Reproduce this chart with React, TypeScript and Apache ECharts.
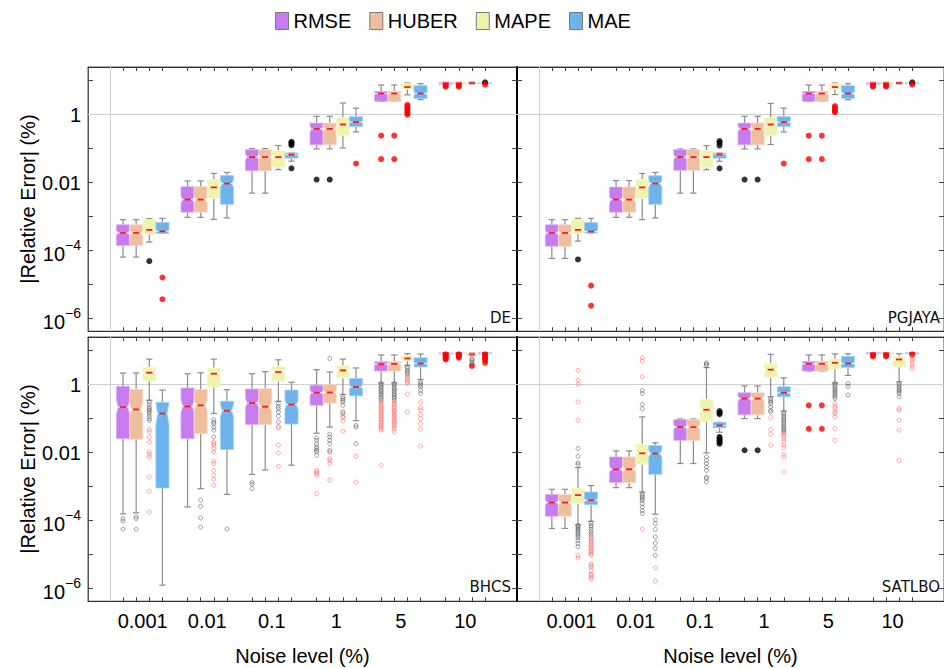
import React, { useEffect, useRef } from 'react';
import * as echarts from 'echarts';

// ---------------- DATA ----------------
// Box statistics are given as log10(|Relative Error| in %): [whiskerLow, Q1, median, Q3, whiskerHigh]
// one row per noise level (0.001, 0.01, 0.1, 1, 5, 10)
const METHODS = ['RMSE', 'HUBER', 'MAPE', 'MAE'];
const NOISE_LABELS = ['0.001', '0.01', '0.1', '1', '5', '10'];
const Y_TICK_EXPONENTS = [-6, -5, -4, -3, -2, -1, 0, 1];
const Y_LABEL_EXPONENTS = [-6, -4, -2, 0];
const PANEL_LABELS = ['DE', 'PGJAYA', 'BHCS', 'SATLBO'];

const DE_RMSE = [
  [-4.19, -3.85, -3.48, -3.24, -3.09],
  [-3.02, -2.87, -2.5, -2.12, -1.95],
  [-2.31, -1.65, -1.25, -1.03, -1.0],
  [-1.01, -0.89, -0.42, -0.25, -0.05],
  [0.39, 0.39, 0.62, 0.68, 0.87],
  [0.89, 0.89, 0.92, 0.94, 0.95],
];
const DE_HUBER = [
  [-4.19, -3.85, -3.48, -3.24, -3.09],
  [-3.02, -2.87, -2.5, -2.12, -1.95],
  [-2.31, -1.65, -1.25, -1.03, -1.0],
  [-1.01, -0.89, -0.42, -0.25, -0.05],
  [0.39, 0.39, 0.62, 0.68, 0.87],
  [0.89, 0.89, 0.92, 0.94, 0.95],
];
const DE_MAPE = [
  [-3.75, -3.52, -3.39, -3.09, -3.06],
  [-3.08, -2.46, -2.14, -1.91, -1.73],
  [-1.62, -1.55, -1.25, -1.06, -0.91],
  [-0.98, -0.61, -0.29, -0.09, 0.34],
  [0.58, 0.75, 0.81, 0.91, 0.93],
  [0.9, 0.91, 0.93, 0.94, 0.95],
];
const DE_MAE = [
  [-3.49, -3.49, -3.43, -3.17, -3.05],
  [-3.04, -2.64, -2.03, -1.79, -1.7],
  [-1.37, -1.28, -1.18, -1.13, -1.13],
  [-0.51, -0.35, -0.22, -0.06, 0.19],
  [0.44, 0.47, 0.62, 0.85, 0.91],
  [0.9, 0.91, 0.93, 0.94, 0.95],
];
// outliers: [noise index, method index, log10 values]
const DE_NEAR_SOLID = [
  [0, 2, [-4.31]],
  [2, 3, [-0.8, -0.83, -0.87, -0.9, -1.58]],
  [3, 0, [-1.91]],
  [3, 1, [-1.91]],
  [5, 3, [0.95]],
];
const DE_FAR_SOLID = [
  [0, 3, [-4.79, -5.43]],
  [3, 3, [-1.44]],
  [4, 0, [-0.62, -1.31]],
  [4, 1, [-0.62, -1.31]],
  [4, 2, [0.29, 0.24, 0.19, 0.14, 0.09, 0.04, 0.0]],
  [5, 0, [0.85, 0.82]],
  [5, 1, [0.85, 0.82]],
  [5, 3, [0.88]],
];

const PGJAYA_RMSE = [
  [-4.23, -3.87, -3.48, -3.24, -3.09],
  [-3.02, -2.87, -2.5, -2.13, -1.94],
  [-2.31, -1.64, -1.25, -1.03, -1.01],
  [-1.01, -0.89, -0.42, -0.25, -0.05],
  [0.39, 0.39, 0.62, 0.68, 0.87],
  [0.89, 0.89, 0.92, 0.94, 0.95],
];
const PGJAYA_HUBER = [
  [-4.23, -3.87, -3.48, -3.24, -3.09],
  [-3.02, -2.87, -2.5, -2.13, -1.94],
  [-2.31, -1.64, -1.25, -1.03, -1.01],
  [-1.01, -0.89, -0.42, -0.25, -0.05],
  [0.39, 0.39, 0.62, 0.68, 0.87],
  [0.89, 0.89, 0.92, 0.94, 0.95],
];
const PGJAYA_MAPE = [
  [-3.72, -3.5, -3.39, -3.09, -3.05],
  [-3.09, -2.46, -2.14, -1.91, -1.73],
  [-1.62, -1.55, -1.25, -1.06, -0.91],
  [-0.88, -0.61, -0.29, -0.09, 0.33],
  [0.59, 0.75, 0.81, 0.91, 0.93],
  [0.9, 0.91, 0.93, 0.94, 0.95],
];
const PGJAYA_MAE = [
  [-3.48, -3.48, -3.44, -3.17, -3.05],
  [-3.04, -2.64, -2.03, -1.8, -1.7],
  [-1.37, -1.28, -1.17, -1.13, -1.13],
  [-0.51, -0.35, -0.22, -0.06, 0.19],
  [0.44, 0.47, 0.62, 0.85, 0.91],
  [0.9, 0.91, 0.93, 0.94, 0.95],
];
const PGJAYA_NEAR_SOLID = [
  [0, 2, [-4.26]],
  [2, 3, [-0.78, -0.83, -0.91, -1.58]],
  [3, 0, [-1.91]],
  [3, 1, [-1.91]],
  [5, 3, [0.95]],
];
const PGJAYA_FAR_SOLID = [
  [0, 3, [-5.03, -5.62]],
  [3, 3, [-1.44]],
  [4, 0, [-0.62, -1.31]],
  [4, 1, [-0.62, -1.31]],
  [4, 2, [0.25, 0.2, 0.15, 0.1, 0.07]],
  [5, 0, [0.85, 0.82]],
  [5, 1, [0.85, 0.82]],
  [5, 3, [0.88]],
];

const BHCS_RMSE = [
  [-3.8, -1.59, -0.66, -0.05, 0.34],
  [-3.6, -1.59, -0.64, -0.1, 0.32],
  [-2.64, -1.17, -0.54, -0.13, 0.32],
  [-1.43, -0.61, -0.24, -0.02, 0.44],
  [0.05, 0.4, 0.6, 0.67, 0.87],
  [0.9, 0.9, 0.92, 0.93, 0.94],
];
const BHCS_HUBER = [
  [-3.77, -1.61, -0.73, -0.14, 0.34],
  [-3.06, -1.44, -0.61, -0.15, 0.35],
  [-2.51, -1.17, -0.65, -0.12, 0.38],
  [-1.25, -0.54, -0.23, 0.0, 0.37],
  [0.05, 0.4, 0.61, 0.67, 0.87],
  [0.9, 0.9, 0.92, 0.93, 0.94],
];
const BHCS_MAPE = [
  [-0.46, 0.11, 0.35, 0.51, 0.75],
  [-0.85, -0.07, 0.32, 0.49, 0.75],
  [-0.49, 0.1, 0.37, 0.54, 0.73],
  [-0.29, 0.2, 0.42, 0.56, 0.75],
  [0.57, 0.7, 0.77, 0.85, 0.91],
  [0.84, 0.84, 0.89, 0.93, 0.94],
];
const BHCS_MAE = [
  [-5.9, -3.04, -0.85, -0.52, -0.16],
  [-3.23, -1.91, -0.77, -0.49, -0.15],
  [-2.37, -1.16, -0.59, -0.16, 0.07],
  [-1.06, -0.33, -0.07, 0.18, 0.49],
  [0.15, 0.52, 0.62, 0.79, 0.9],
  [0.9, 0.9, 0.92, 0.94, 0.94],
];
const BHCS_NEAR_HOLLOW = [
  [0, 0, [-3.94, -4.01, -4.25]],
  [0, 1, [-3.89, -3.94, -4.25]],
  [0, 2, [-0.51, -0.58, -0.66, -0.71, -0.75, -0.8, -0.85, -0.93, -1.0, -1.05]],
  [1, 1, [-3.4, -3.58, -3.92, -4.19]],
  [1, 2, [-1.03, -1.1, -1.15, -1.25, -1.34, -1.54]],
  [1, 3, [-4.25]],
  [2, 0, [-2.87, -2.93, -3.06]],
  [2, 2, [-0.56, -0.64, -0.71, -0.8, -0.93, -1.1]],
  [3, 0, [-1.57, -1.64, -1.74, -1.83, -1.88, -1.93, -1.98, -2.08]],
  [3, 1, [0.77, -1.46, -1.54, -1.64, -1.74, -1.93, -1.98]],
  [3, 2, [-0.36, -0.41, -0.46, -0.51, -0.61, -0.8, -0.85]],
  [3, 3, [-1.2, -1.25, -1.74]],
  [4, 0, [0.03, -0.02, -0.07, -0.11, -0.17, -0.21, -0.26, -0.3, -0.36, -0.41, -0.46]],
  [4, 1, [0.03, -0.01, -0.07, -0.12, -0.16, -0.21, -0.27, -0.31, -0.36, -0.4, -0.46]],
  [4, 2, [0.52, 0.47, 0.42, 0.37, 0.32]],
  [4, 3, [0.08, 0.03, -0.02, -0.07, -0.17, -0.26]],
  [5, 2, [0.76, 0.72, 0.67, 0.62]],
];
const BHCS_FAR_HOLLOW = [
  [0, 2, [-1.32, -1.39, -1.54, -1.69, -1.98, -2.05, -2.13, -2.72, -3.14, -3.75]],
  [1, 2, [-1.69, -1.74, -1.78, -1.88, -1.98, -2.25, -2.32, -2.52, -2.67, -2.78, -2.96]],
  [2, 2, [-1.23, -1.27, -1.78, -2.01, -2.4]],
  [3, 0, [-2.52, -2.57, -2.62, -2.67, -3.21]],
  [3, 1, [-2.18, -2.23, -2.32, -2.81]],
  [3, 2, [-0.93, -0.97, -1.07, -1.37]],
  [3, 3, [-2.11, -2.87]],
  [4, 0, [-0.51, -0.55, -0.61, -0.66, -0.7, -0.75, -0.81, -0.85, -0.9, -0.95, -1.0, -1.04, -1.1, -1.15, -1.2, -1.24, -1.29, -1.34, -2.37]],
  [4, 1, [-0.51, -0.56, -0.6, -0.66, -0.71, -0.76, -0.8, -0.86, -0.9, -0.94, -1.0, -1.05, -1.1, -1.14, -1.2, -1.25, -1.3, -1.39]],
  [4, 2, [0.27, 0.23, 0.18, 0.13, 0.08, 0.03, -0.28, -0.8]],
  [4, 3, [-0.51, -0.68, -0.75, -0.88, -1.0, -1.15, -1.31, -1.81]],
];
const BHCS_FAR_SOLID = [
  [5, 0, [0.89, 0.86, 0.83, 0.8, 0.76, 0.74]],
  [5, 1, [0.89, 0.86, 0.83, 0.79]],
  [5, 2, [0.55]],
  [5, 3, [0.89, 0.85, 0.81, 0.76, 0.72, 0.64]],
];

const SATLBO_RMSE = [
  [-4.23, -3.87, -3.47, -3.23, -3.08],
  [-3.03, -2.88, -2.49, -2.13, -1.95],
  [-2.32, -1.64, -1.25, -1.03, -1.01],
  [-1.0, -0.89, -0.41, -0.24, -0.04],
  [0.4, 0.4, 0.61, 0.68, 0.87],
  [0.9, 0.9, 0.92, 0.94, 0.94],
];
const SATLBO_HUBER = [
  [-4.23, -3.87, -3.47, -3.23, -3.08],
  [-3.03, -2.88, -2.49, -2.13, -1.95],
  [-2.32, -1.64, -1.25, -1.03, -1.01],
  [-1.0, -0.89, -0.41, -0.24, -0.04],
  [0.4, 0.4, 0.61, 0.68, 0.87],
  [0.9, 0.9, 0.92, 0.94, 0.94],
];
const SATLBO_MAPE = [
  [-4.12, -3.5, -3.25, -3.05, -2.44],
  [-3.16, -2.34, -2.02, -1.76, -0.95],
  [-2.01, -1.08, -0.74, -0.44, 0.5],
  [-0.36, 0.21, 0.44, 0.62, 0.89],
  [0.05, 0.46, 0.64, 0.75, 0.9],
  [0.08, 0.52, 0.74, 0.83, 0.91],
];
const SATLBO_MAE = [
  [-4.02, -3.53, -3.4, -3.16, -2.97],
  [-3.81, -2.64, -2.03, -1.79, -1.71],
  [-1.4, -1.27, -1.2, -1.11, -1.11],
  [-0.78, -0.36, -0.24, -0.06, 0.2],
  [0.27, 0.5, 0.62, 0.83, 0.91],
  [0.9, 0.9, 0.92, 0.94, 0.94],
];
const SATLBO_NEAR_HOLLOW = [
  [0, 2, [-1.88, -2.11, -2.3, -2.35, -4.14, -4.18, -4.22, -4.26, -4.3, -4.35, -4.4, -4.45, -4.5, -4.58, -4.67, -4.77]],
  [0, 3, [-4.07, -4.14, -4.19, -4.26, -4.33, -4.4, -4.48]],
  [1, 2, [-0.17, -0.26, -0.58, -0.71, -3.21, -3.26, -3.31, -3.36, -3.41, -3.5, -3.6, -3.7, -3.79]],
  [1, 3, [-3.97, -4.09, -4.26, -4.48, -4.66, -4.82, -5.02]],
  [2, 2, [0.64, 0.6, 0.57, -2.13, -2.23, -2.32, -2.42, -2.52, -2.72, -2.76, -2.86]],
  [3, 2, [-0.41, -0.46, -0.51, -0.56, -0.66, -0.75, -0.8]],
  [3, 3, [-0.82, -0.87, -0.92, -0.97, -1.02, -1.07, -1.12, -1.17, -1.22, -1.27, -1.32, -1.36, -1.41]],
  [4, 2, [0.03, -0.02, -0.07, -0.12, -0.17, -0.21, -0.26, -0.31, -0.36, -0.41]],
  [4, 3, [0.03, -0.05, -0.31]],
  [5, 2, [0.03, -0.02, -0.07, -0.12, -0.17, -0.21, -0.26, -0.36]],
];
const SATLBO_FAR_HOLLOW = [
  [0, 2, [0.42, 0.13, 0.01, -0.51, -1.05, -5.02, -5.1]],
  [0, 3, [-4.53, -4.58, -4.63, -4.68, -4.73, -4.78, -4.83, -4.88, -4.93, -4.98, -5.02, -5.27, -5.32, -5.37, -5.47, -5.57, -5.61, -5.66, -5.71]],
  [1, 2, [0.79, 0.69, 0.23, -4.25]],
  [1, 3, [-5.39, -5.78]],
  [3, 2, [-0.97, -1.32, -1.46, -1.78]],
  [3, 3, [-1.46, -1.52, -1.59, -1.66, -1.78, -1.85, -2.05, -2.13, -2.57]],
  [4, 2, [-0.56, -0.64, -0.71, -0.8, -0.85, -0.95, -1.29, -1.64]],
  [5, 2, [-0.71, -0.75, -1.05, -1.34, -2.23]],
  [5, 3, [0.83, 0.76, 0.7, 0.62, 0.54, 0.47]],
];
const SATLBO_NEAR_SOLID = [
  [2, 3, [-0.78, -0.83, -0.87, -1.54, -1.59, -1.64, -1.69, -1.74]],
  [3, 0, [-1.93]],
  [3, 1, [-1.93]],
];
const SATLBO_FAR_SOLID = [
  [4, 0, [-0.61, -1.3]],
  [4, 1, [-0.61, -1.3]],
  [5, 0, [0.86, 0.83]],
  [5, 1, [0.86, 0.83]],
  [5, 3, [0.89]],
];

// ---------------- STYLE / LAYOUT ----------------
const FONT = "'Liberation Sans', Arial, sans-serif";
const COLORS = ['#c67bef', '#efbe9f', '#eef3ae', '#6db4ec'];
const EDGES = ['#dcaef6', '#f6d8c5', '#f7f9d3', '#a6d1f4'];
const X_MIN = -0.848;
const X_MAX = 5.8;
const Y_MIN = -6.37;
const Y_MAX = 1.4;
const BOX_STEP = 0.2036;
const NOTCH = 0.13;
const GRID_W = 429;
const GRID_H = 264.2;
const GRID_POS = [
  { left: 88, top: 67 },
  { left: 517, top: 67 },
  { left: 88, top: 337 },
  { left: 517, top: 337 },
];

const boxX = (g: number, k: number) => g + (k - 1.5) * BOX_STEP;
const BOX_POSITIONS: number[] = [];
NOISE_LABELS.forEach((_, g) => METHODS.forEach((__, k) => BOX_POSITIONS.push(boxX(g, k))));

const PANELS = [
  { stats: [DE_RMSE, DE_HUBER, DE_MAPE, DE_MAE], nearHollow: [], farHollow: [], nearSolid: DE_NEAR_SOLID, farSolid: DE_FAR_SOLID },
  { stats: [PGJAYA_RMSE, PGJAYA_HUBER, PGJAYA_MAPE, PGJAYA_MAE], nearHollow: [], farHollow: [], nearSolid: PGJAYA_NEAR_SOLID, farSolid: PGJAYA_FAR_SOLID },
  { stats: [BHCS_RMSE, BHCS_HUBER, BHCS_MAPE, BHCS_MAE], nearHollow: BHCS_NEAR_HOLLOW, farHollow: BHCS_FAR_HOLLOW, nearSolid: [], farSolid: BHCS_FAR_SOLID },
  { stats: [SATLBO_RMSE, SATLBO_HUBER, SATLBO_MAPE, SATLBO_MAE], nearHollow: SATLBO_NEAR_HOLLOW, farHollow: SATLBO_FAR_HOLLOW, nearSolid: SATLBO_NEAR_SOLID, farSolid: SATLBO_FAR_SOLID },
];

const flattenOutliers = (list: any[]) =>
  list.flatMap(([g, k, vals]: any) => vals.map((v: number) => [boxX(g, k), v]));

const makeRenderBox = (fill: string, edge: string) => (params: any, api: any) => {
  const x = api.value(0);
  const lo = api.value(1);
  const q1 = api.value(2);
  const med = api.value(3);
  const q3 = api.value(4);
  const hi = api.value(5);
  const w = api.size([BOX_STEP, 0])[0];
  const cx = api.coord([x, med])[0];
  const yv = (v: number) => api.coord([x, v])[1];
  const iqr = q3 - q1;
  const nTop = Math.min(q3, med + NOTCH * iqr);
  const nBot = Math.max(q1, med - NOTCH * iqr);
  const yLo = yv(lo), yQ1 = yv(q1), yMed = yv(med), yQ3 = yv(q3), yHi = yv(hi);
  const yNT = yv(nTop), yNB = yv(nBot);
  const x0 = cx - w / 2, x1 = cx + w / 2, d = w * 0.14;
  const cap = w * 0.24;
  const whisk = { stroke: '#8c8c8c', lineWidth: 1.2 };
  return {
    type: 'group',
    children: [
      { type: 'line', shape: { x1: cx, y1: yQ3, x2: cx, y2: yHi }, style: whisk },
      { type: 'line', shape: { x1: cx, y1: yQ1, x2: cx, y2: yLo }, style: whisk },
      { type: 'line', shape: { x1: cx - cap, y1: yHi, x2: cx + cap, y2: yHi }, style: whisk },
      { type: 'line', shape: { x1: cx - cap, y1: yLo, x2: cx + cap, y2: yLo }, style: whisk },
      {
        type: 'polygon',
        shape: {
          points: [
            [x0, yQ3], [x1, yQ3], [x1, yNT], [x1 - d, yMed], [x1, yNB], [x1, yQ1],
            [x0, yQ1], [x0, yNB], [x0 + d, yMed], [x0, yNT],
          ],
        },
        style: { fill, stroke: edge, lineWidth: 0.8 },
      },
      { type: 'line', shape: { x1: x0 + d, y1: yMed, x2: x1 - d, y2: yMed }, style: { stroke: '#ffffff', lineWidth: 1 } },
      { type: 'line', shape: { x1: cx - w * 0.24, y1: yMed, x2: cx + w * 0.24, y2: yMed }, style: { stroke: '#ff1a1a', lineWidth: 1.8 } },
    ],
  };
};

const yFormatter = (v: number) => {
  const e = Math.round(v);
  if (e === 0) return '1';
  if (e === -2) return '0.01';
  return `{b|10}{s|\u2212${-e}}`;
};

function buildOption() {
  const grid: any[] = [];
  const xAxis: any[] = [];
  const yAxis: any[] = [];
  const series: any[] = [];
  const title: any[] = [];

  PANELS.forEach((panel, p) => {
    const isLeft = p % 2 === 0;
    const isBottom = p >= 2;
    grid.push({
      left: GRID_POS[p].left,
      top: GRID_POS[p].top,
      width: GRID_W,
      height: GRID_H,
      show: true,
      borderColor: '#555',
      borderWidth: 1,
    });
    const tickStyle = { color: '#444', width: 1 };
    xAxis.push({
      gridIndex: p,
      type: 'value',
      min: X_MIN,
      max: X_MAX,
      position: 'bottom',
      axisLine: { show: true, onZero: false, lineStyle: { color: '#333', width: 1 } },
      axisTick: { show: true, inside: true, length: 4, customValues: BOX_POSITIONS, lineStyle: tickStyle },
      axisLabel: {
        show: isBottom,
        customValues: [0, 1, 2, 3, 4, 5],
        formatter: (v: number) => NOISE_LABELS[Math.round(v)],
        fontSize: 20,
        fontFamily: FONT,
        color: '#000',
        margin: 10,
      },
      splitLine: { show: false },
      name: isBottom ? 'Noise level (%)' : '',
      nameLocation: 'middle',
      nameGap: 45,
      nameTextStyle: { fontSize: 20, fontFamily: FONT, color: '#000' },
    });
    xAxis.push({
      gridIndex: p,
      type: 'value',
      min: X_MIN,
      max: X_MAX,
      position: 'top',
      axisLine: { show: true, onZero: false, lineStyle: { color: '#333', width: 1 } },
      axisTick: { show: true, inside: true, length: 4, customValues: BOX_POSITIONS, lineStyle: tickStyle },
      axisLabel: { show: false },
      splitLine: { show: false },
    });
    yAxis.push({
      gridIndex: p,
      type: 'value',
      min: Y_MIN,
      max: Y_MAX,
      position: 'left',
      axisLine: { show: true, onZero: false, lineStyle: { color: isLeft ? '#555' : '#000', width: isLeft ? 1 : 2 } },
      axisTick: { show: true, inside: true, length: 5, customValues: Y_TICK_EXPONENTS, lineStyle: tickStyle },
      axisLabel: {
        show: isLeft,
        customValues: Y_LABEL_EXPONENTS,
        formatter: yFormatter,
        fontSize: 20,
        fontFamily: FONT,
        color: '#000',
        margin: 7,
        rich: {
          b: { fontSize: 20, fontFamily: FONT, color: '#000', verticalAlign: 'bottom', lineHeight: 26 },
          s: { fontSize: 14, fontFamily: FONT, color: '#000', verticalAlign: 'top', lineHeight: 14 },
        },
      },
      splitLine: { show: false },
      name: isLeft ? '|Relative Error| (%)' : '',
      nameLocation: 'middle',
      nameRotate: 90,
      nameGap: 45,
      nameTextStyle: { fontSize: 20, fontFamily: FONT, color: '#000' },
    });
    yAxis.push({
      gridIndex: p,
      type: 'value',
      min: Y_MIN,
      max: Y_MAX,
      position: 'right',
      axisLine: { show: true, onZero: false, lineStyle: { color: '#333', width: 1 } },
      axisTick: { show: true, inside: true, length: 5, customValues: Y_TICK_EXPONENTS, lineStyle: tickStyle },
      axisLabel: { show: false },
      splitLine: { show: false },
    });

    const xi = p * 2;
    const yi = p * 2;

    // reference grid lines (behind boxes)
    series.push({
      type: 'scatter',
      name: 'grid-' + p,
      xAxisIndex: xi,
      yAxisIndex: yi,
      data: [],
      silent: true,
      z: 1,
      markLine: {
        silent: true,
        z: 1,
        symbol: ['none', 'none'],
        label: { show: false },
        lineStyle: { color: '#cfcfcf', width: 1, type: 'solid' },
        emphasis: { disabled: true },
        animation: false,
        data: [{ yAxis: 0 }, { xAxis: -0.5 }],
      },
    });

    panel.stats.forEach((rows, k) => {
      series.push({
        type: 'custom',
        name: METHODS[k],
        xAxisIndex: xi,
        yAxisIndex: yi,
        z: 3,
        silent: true,
        itemStyle: { color: COLORS[k] },
        encode: { x: 0, y: [1, 2, 3, 4, 5] },
        data: rows.map((r, g) => [boxX(g, k), ...r]),
        renderItem: makeRenderBox(COLORS[k], EDGES[k]),
      });
    });

    const scat = (name: string, list: any[], style: any, size: number) => {
      if (!list.length) return;
      series.push({
        type: 'scatter',
        name,
        xAxisIndex: xi,
        yAxisIndex: yi,
        z: 4,
        silent: true,
        symbol: 'circle',
        symbolSize: size,
        itemStyle: style,
        data: flattenOutliers(list),
      });
    };
    scat('near-hollow-' + p, panel.nearHollow, { color: 'rgba(0,0,0,0)', borderColor: 'rgba(70,70,70,0.7)', borderWidth: 0.9 }, 4);
    scat('far-hollow-' + p, panel.farHollow, { color: 'rgba(0,0,0,0)', borderColor: 'rgba(255,80,80,0.7)', borderWidth: 0.9 }, 4);
    scat('near-solid-' + p, panel.nearSolid, { color: '#000000' }, 6);
    scat('far-solid-' + p, panel.farSolid, { color: '#ff0000' }, 6);

    title.push({
      text: PANEL_LABELS[p],
      right: isLeft ? 944 - 511 : 4,
      top: isBottom ? 579 : 310,
      padding: 0,
      textStyle: { fontFamily: "'DejaVu Sans', sans-serif", fontSize: 15, fontWeight: 'normal', color: '#111' },
    });
  });

  return {
    animation: false,
    backgroundColor: '#ffffff',
    title,
    legend: {
      top: 6,
      left: 270,
      itemWidth: 13,
      itemHeight: 17,
      itemGap: 18,
      selectedMode: false,
      textStyle: { fontSize: 20, fontFamily: FONT, color: '#000' },
      data: METHODS.map((m, k) => ({
        name: m,
        icon: 'rect',
        itemStyle: { color: COLORS[k], borderColor: '#7a7a7a', borderWidth: 1 },
      })),
    },
    grid,
    xAxis,
    yAxis,
    series,
  };
}

export default function App() {
  const ref = useRef<HTMLDivElement>(null);
  useEffect(() => {
    if (!ref.current) return;
    const chart = echarts.init(ref.current, undefined, { renderer: 'svg' });
    chart.setOption(buildOption() as any);
    return () => chart.dispose();
  }, []);
  return (
    <div
      ref={ref}
      style={{ position: 'fixed', left: 0, top: 0, width: 944, height: 668, background: '#fff' }}
    />
  );
}
